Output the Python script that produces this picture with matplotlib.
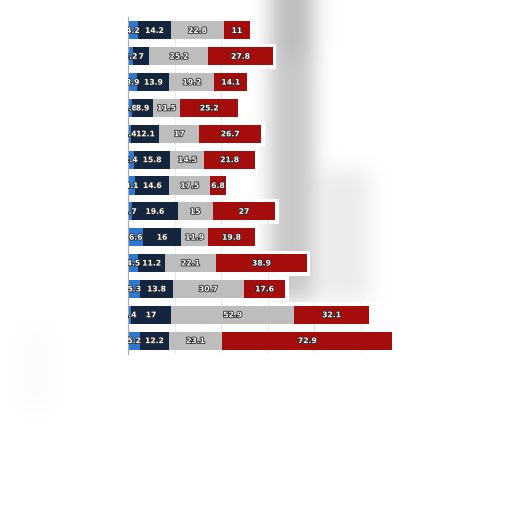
import numpy as np
import matplotlib
matplotlib.use("Agg")
import matplotlib.pyplot as plt
import matplotlib.patheffects as pe

# ---- data (top row first) ----
seg1 = [4.2, 2.2, 3.9, 1.8, 1.4, 2.4, 3.1, 1.7, 6.6, 4.5, 5.3, 1.4, 5.2]
seg2 = [14.2, 7, 13.9, 8.9, 12.1, 15.8, 14.6, 19.6, 16, 11.2, 13.8, 17, 12.2]
seg3 = [22.8, 25.2, 19.2, 11.5, 17, 14.5, 17.5, 15, 11.9, 22.1, 30.7, 52.9, 23.1]
seg4 = [11, 27.8, 14.1, 25.2, 26.7, 21.8, 6.8, 27, 19.8, 38.9, 17.6, 32.1, 72.9]
series = [seg1, seg2, seg3, seg4]
colors = ["#2e78d2", "#14263f", "#bdbdbd", "#a50d0d"]
grid_vals = [20, 40, 60, 80, 100, 120]

n = len(seg1)
W = H = 512
fig = plt.figure(figsize=(5.12, 5.12), dpi=100)

# ---- decorative blurred background ----
bg = fig.add_axes([0, 0, 1, 1])
bg.set_axis_off()
img = np.zeros((H, W))
img[0:300, 270:314] = 0.22
img[0:60, 276:312] = 0.26
img[170:300, 322:370] = 0.08
img[330:410, 24:48] = 0.02
def blur(a, s):
    r = int(3 * s)
    x = np.arange(-r, r + 1)
    k = np.exp(-x**2 / (2 * s * s)); k /= k.sum()
    a = np.pad(a, r, mode="edge")
    a = np.apply_along_axis(lambda v: np.convolve(v, k, mode="same"), 0, a)
    a = np.apply_along_axis(lambda v: np.convolve(v, k, mode="same"), 1, a)
    return a[r:-r, r:-r]
img = blur(img, 10)
gray = np.clip(np.round((1 - img) * 255), 0, 255).astype(np.uint8)
rgb = np.repeat(gray[..., None], 3, axis=2)
bg.imshow(rgb, extent=[0, 1, 0, 1], aspect="auto", interpolation="nearest")
bg.set_xlim(0, 1); bg.set_ylim(0, 1)

# ---- main chart ----
left_px, right_px = 128, 490
top_px, bot_px = 17.5, 353.5
ax = fig.add_axes([left_px / W, 1 - bot_px / H, (right_px - left_px) / W, (bot_px - top_px) / H])
ax.patch.set_alpha(0)
scale = 2.33
ax.set_xlim(0, (right_px - left_px) / scale)
ax.set_ylim(n - 0.5, -0.5)
y = np.arange(n)

totals = np.sum(np.array(series), axis=0)
halo = totals + 1.5
ax.barh(y, halo, height=0.97, color="white", zorder=1, edgecolor="none")
for i in range(n):
    gx = [g for g in grid_vals if g < halo[i]]
    if gx:
        ax.vlines(gx, y[i] - 0.485, y[i] + 0.485, color="#e4e4e4", lw=0.6, zorder=1.5)

left = np.zeros(n)
for vals, c in zip(series, colors):
    vals = np.array(vals, dtype=float)
    ax.barh(y, vals, left=left, height=0.7, color=c, edgecolor="none", zorder=2)
    for i, v in enumerate(vals):
        t = ax.text(left[i] + v / 2, y[i], f"{v:g}", ha="center", va="center",
                    fontsize=5.5, fontweight="bold", color="white", zorder=3,
                    clip_on=True)
        t.set_path_effects([pe.withStroke(linewidth=1.2, foreground="#2a2a2a")])
    left += vals

ax.set_xticks([]); ax.set_yticks([])
for s in ["top", "right", "bottom"]:
    ax.spines[s].set_visible(False)
ax.spines["left"].set_color("#aaaaaa")
ax.spines["left"].set_linewidth(0.8)

fig.savefig("out.png", dpi=100)
